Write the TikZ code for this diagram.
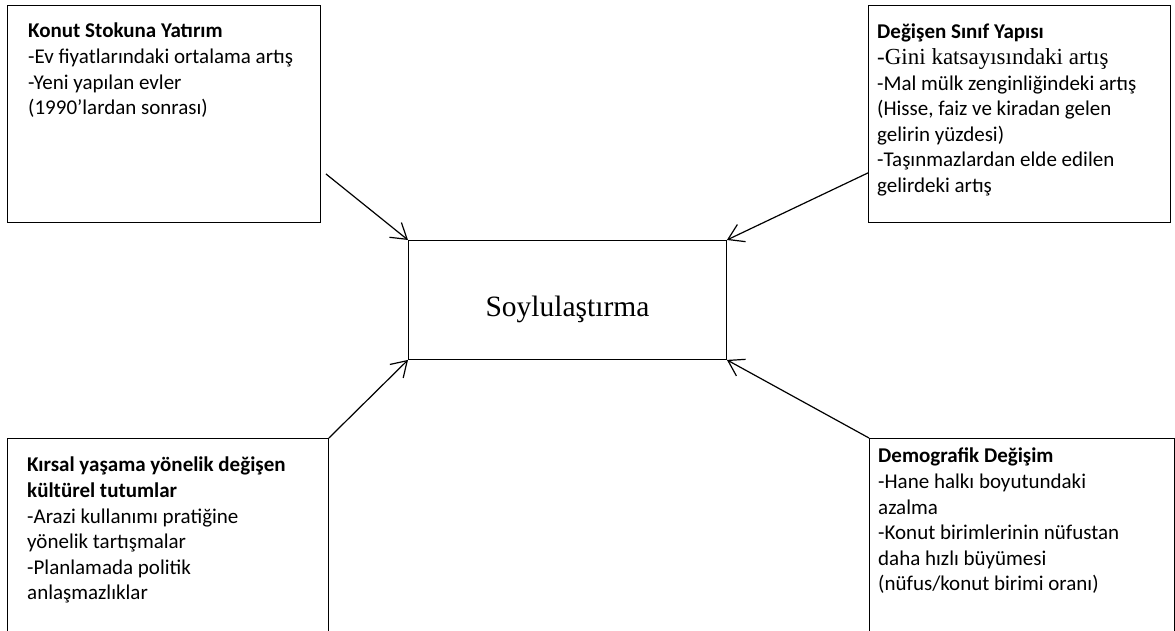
\documentclass[tikz,border=0pt]{standalone}
\usepackage{fontspec}
\setmainfont{Carlito}
\newfontfamily\tnr{Liberation Serif}
\usetikzlibrary{arrows.meta,positioning,calc}

\begin{document}
\begin{tikzpicture}[x=1pt, y=-1pt, >={Straight Barb[length=15pt,width=19pt]},
  kutu/.style={draw, line width=0.9pt, inner sep=0pt, anchor=north west},
  yazi/.style={anchor=north west, align=left, inner sep=0pt, font=\fontsize{21}{25.6}\selectfont},
  ok/.style={->, line width=1.2pt}]
\useasboundingbox (0,0) rectangle (1175,631);

% -------- boxes
\node[kutu, minimum width=313pt, minimum height=217pt] (konut) at (7,5) {};
\node[kutu, minimum width=302pt, minimum height=217pt] (sinif) at (868,5) {};
\node[kutu, minimum width=321pt, minimum height=250pt] (kirsal) at (7,438) {};
\node[kutu, minimum width=305pt, minimum height=250pt] (demog) at (869,438) {};
\node[kutu, minimum width=318pt, minimum height=119pt, text height=41pt, text depth=7pt,
  font=\tnr\fontsize{29.5}{32}\selectfont] (soy) at (408,240) {Soylulaştırma};

% -------- texts
\node[yazi] (konutyazi) at ($(konut.north west)+(21,18)$)
  {\textbf{Konut Stokuna Yatırım}\\-Ev fiyatlarındaki ortalama artış\\-Yeni yapılan evler\\(1990’lardan sonrası)};
\node[yazi] (sinifyazi) at ($(sinif.north west)+(9,19)$)
  {\textbf{Değişen Sınıf Yapısı}\\{\tnr\fontsize{23}{25.6}\selectfont -Gini katsayısındaki artış}\\-Mal mülk zenginliğindeki artış\\(Hisse, faiz ve kiradan gelen\\gelirin yüzdesi)\\-Taşınmazlardan elde edilen\\gelirdeki artış};
\node[yazi] (kirsalyazi) at ($(kirsal.north west)+(20,19)$)
  {\textbf{Kırsal yaşama yönelik değişen}\\\textbf{kültürel tutumlar}\\-Arazi kullanımı pratiğine\\yönelik tartışmalar\\-Planlamada politik\\anlaşmazlıklar};
\node[yazi] (demogyazi) at ($(demog.north west)+(9,10)$)
  {\textbf{Demografik Değişim}\\-Hane halkı boyutundaki\\azalma\\-Konut birimlerinin nüfustan\\daha hızlı büyümesi\\(nüfus/konut birimi oranı)};

% -------- arrows
\draw[ok] ($(konut.south east)+(5,-49)$) -- (soy.north west);
\draw[ok] ($(sinif.south west)+(0,-50)$) -- (soy.north east);
\draw[ok] (kirsal.north east) -- (soy.south west);
\draw[ok] (demog.north west) -- (soy.south east);

\end{tikzpicture}
\end{document}
